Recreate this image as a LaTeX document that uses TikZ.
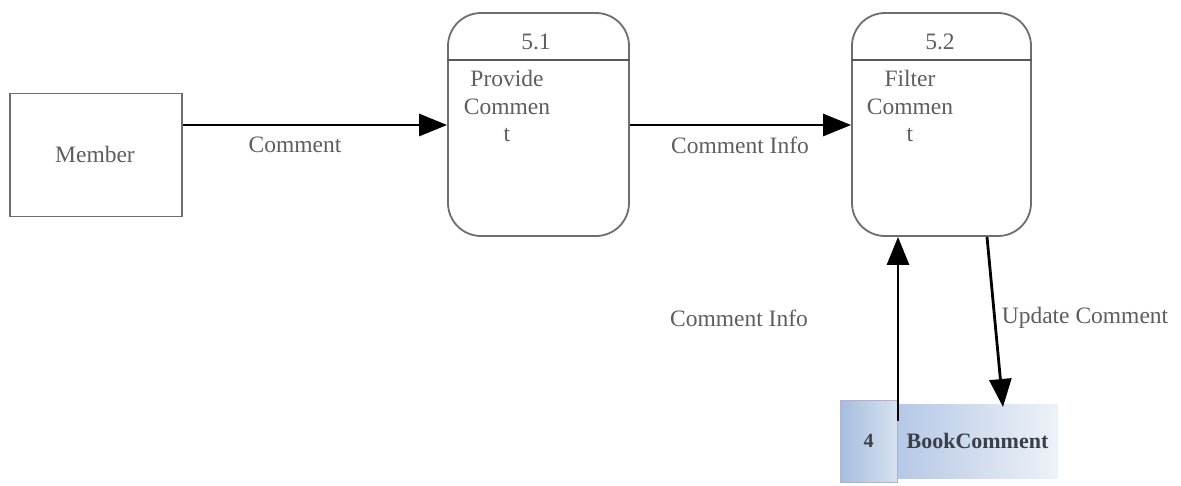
\documentclass[tikz,border=0pt]{standalone}
\usepackage{fontspec}
\setmainfont{Liberation Serif}
\usetikzlibrary{arrows.meta,calc}
\definecolor{edge}{HTML}{6E6E6E}
\definecolor{txt}{HTML}{5E5E5E}
\definecolor{dark}{HTML}{3A3F4A}
\begin{document}
\begin{tikzpicture}[x=1pt,y=-1pt,
  lbl/.style={text=txt, font=\fontsize{23.5}{27.5}\selectfont, inner sep=0pt},
  entity/.style={draw=edge, line width=1.8pt, minimum width=172pt, minimum height=123pt, inner sep=0pt},
  proc/.style={draw=edge, line width=1.8pt, rounded corners=33pt, inner sep=0pt},
  divider/.style={draw=edge!80!black, line width=1.8pt},
  flow/.style={draw=black, line width=2.8pt, -{Triangle[length=28pt,width=22pt]}},
  storenum/.style={draw=blue!20!gray!50, line width=0.8pt, left color={rgb,255:red,166;green,189;blue,222}, right color={rgb,255:red,214;green,225;blue,240}, minimum width=57pt, minimum height=82pt, inner sep=0pt, text=dark, font=\fontsize{20}{24}\selectfont\bfseries},
  storebody/.style={draw=none, left color={rgb,255:red,181;green,200;blue,230}, right color={rgb,255:red,238;green,242;blue,248}, minimum width=161pt, minimum height=74pt, inner sep=0pt, text=dark, font=\fontsize{22}{26}\selectfont\bfseries}
]
\useasboundingbox[fill=white] (0,0) rectangle (1181,485);

% external entity
\node[entity] (member) at (96,155) {};
\node[lbl] (memberT) at (95,154) {Member};

% processes
\node[proc, minimum width=181pt, minimum height=223pt] (p51) at (538.5,124.5) {};
\node[proc, minimum width=179pt, minimum height=223pt] (p52) at (941.5,124.5) {};
\coordinate (ydiv) at (0,60);
\draw[divider] (p51.west |- ydiv) -- (p51.east |- ydiv);
\draw[divider] (p52.west |- ydiv) -- (p52.east |- ydiv);
\node[lbl] (n51) at (536,42) {5.1};
\node[lbl] (n52) at (940,42) {5.2};
\node[lbl, align=center] (t51) at (507,106) {Provide\\Commen\\t};
\node[lbl, align=center] (t52) at (910,106) {Filter\\Commen\\t};

% data store
\node[storebody] (sb) at (977.5,441) {BookComment};
\node[storenum] (s4) at (868.5,441) {4};

% flows
\coordinate (yflow) at (0,125);
\draw[flow] (member.east |- yflow) -- (p51.west |- yflow);
\draw[flow] (p51.east |- yflow) -- (p52.west |- yflow);
\coordinate (su) at (898,421);
\draw[flow] (su) -- (su |- p52.south);
\coordinate (sdx) at (987,0);
\coordinate (sdend) at (1003,407);
\draw[flow] (sdx |- p52.south) -- (sdend);

% labels
\node[lbl] (l1) at (295,145) {Comment};
\node[lbl] (l2) at (740,145) {Comment Info};
\node[lbl] (l3) at (739,318) {Comment Info};
\node[lbl] (l4) at (1085,318) {Update Comment};
\end{tikzpicture}
\end{document}
